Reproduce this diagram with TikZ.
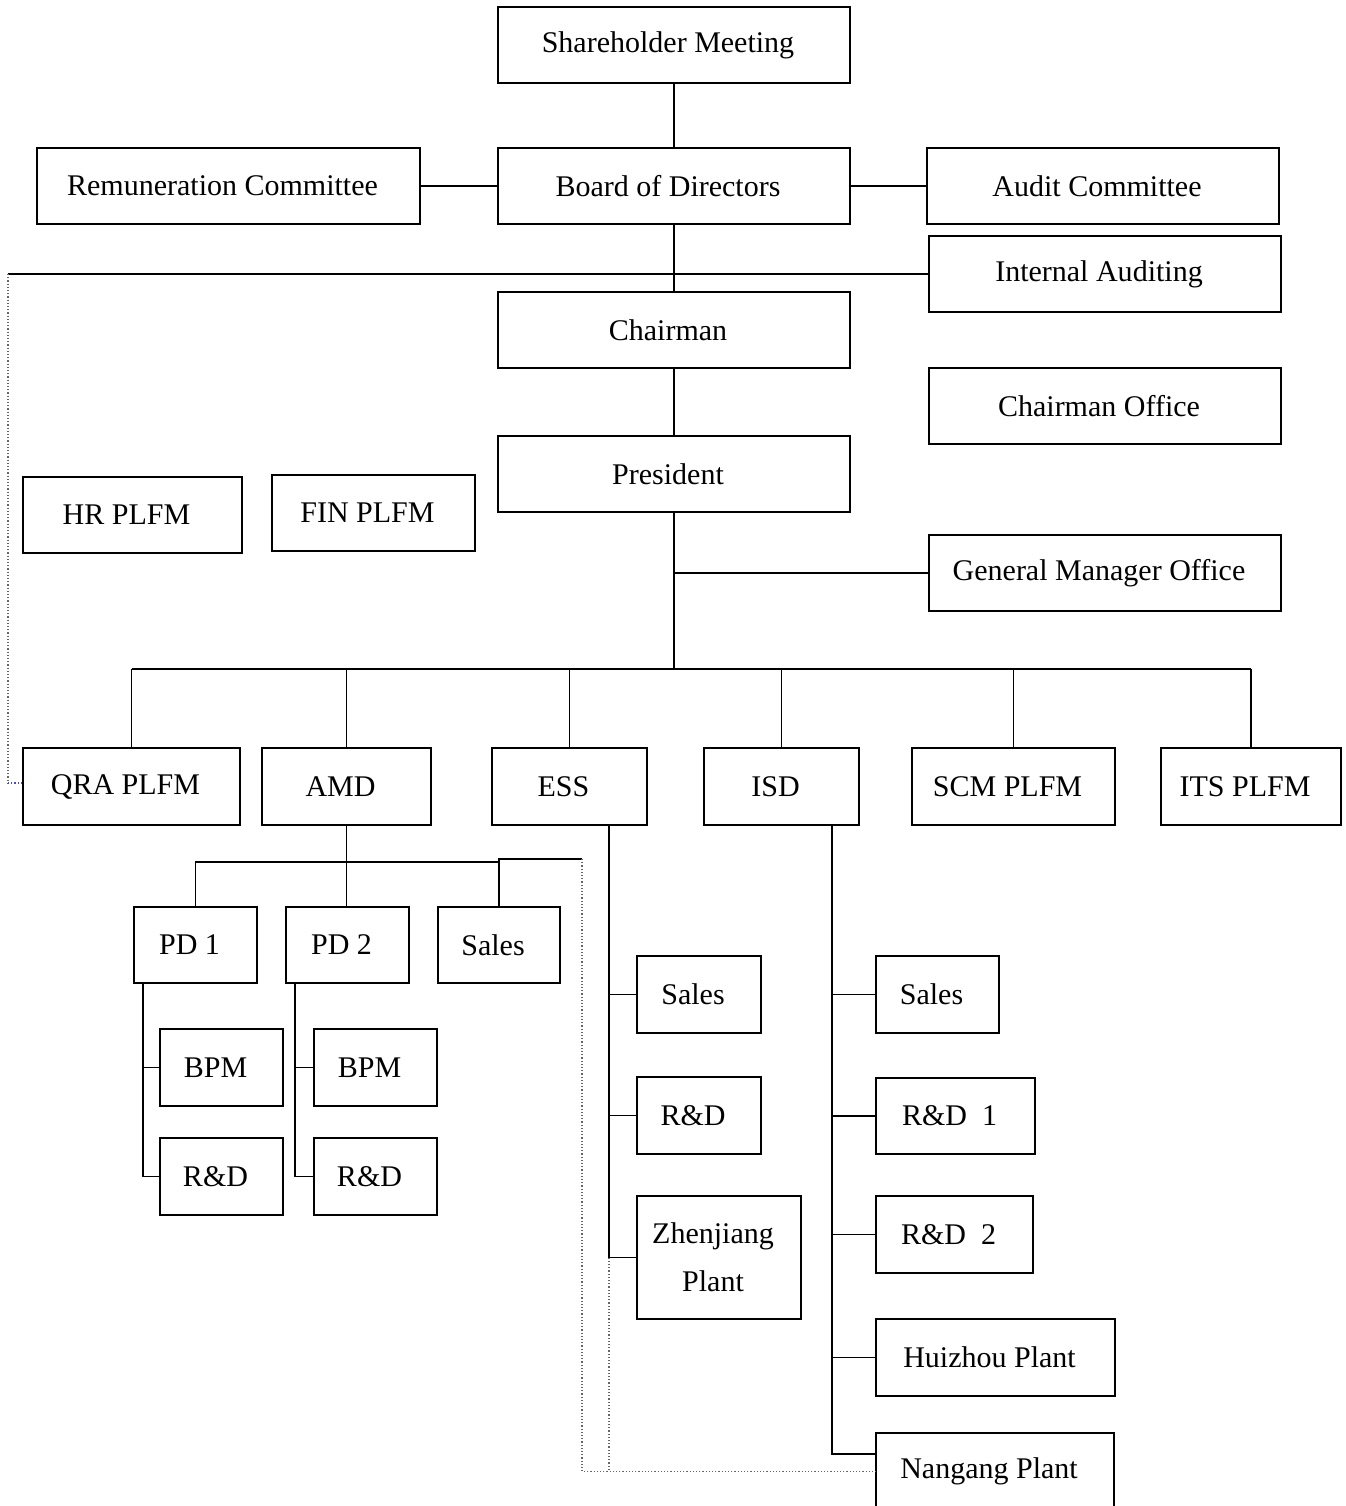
\documentclass[tikz,border=0pt]{standalone}
\usepackage{fontspec}
\setmainfont{Liberation Serif}
\begin{document}
\begin{tikzpicture}[x=1pt,y=-1pt,
  box/.style={draw, line width=1.6pt, inner sep=0pt,
    font=\fontsize{30}{48}\selectfont, execute at end node={\hspace*{12pt}}},
  conn/.style={line width=1.6pt},
  dotline/.style={dotted, line width=1.2pt, color=black!60},
  dotblue/.style={dotted, line width=1.2pt, color=blue!60!black!70}]
\useasboundingbox (0,0) rectangle (1345,1506);
\newcommand\bx[6]{\node[box, minimum width={#4-#2}, minimum height={#5-#3}]
  (#1) at ({(#2+#4)/2},{(#3+#5)/2}) {#6};}
% top
\bx{sh}{498}{7}{850}{83}{Shareholder Meeting}
\bx{rem}{37}{148}{420}{224}{Remuneration Committee}
\bx{bod}{498}{148}{850}{224}{Board of Directors}
\bx{aud}{927}{148}{1279}{224}{Audit Committee}
\bx{ia}{929}{236}{1281}{312}{Internal Auditing}
\bx{ch}{498}{292}{850}{368}{Chairman}
\bx{cho}{929}{368}{1281}{444}{Chairman Office}
\bx{pres}{498}{436}{850}{512}{President}
\bx{hr}{23}{477}{242}{553}{HR PLFM}
\bx{fin}{272}{475}{475}{551}{FIN PLFM}
\bx{gmo}{929}{535}{1281}{611}{General Manager Office}
% divisions
\bx{qra}{23}{748}{240}{825}{QRA PLFM}
\bx{amd}{262}{748}{431}{825}{AMD}
\bx{ess}{492}{748}{647}{825}{ESS}
\bx{isd}{704}{748}{859}{825}{ISD}
\bx{scm}{912}{748}{1115}{825}{SCM PLFM}
\bx{its}{1161}{748}{1341}{825}{ITS PLFM}
% AMD
\bx{pdone}{134}{907}{257}{983}{PD 1}
\bx{pdtwo}{286}{907}{409}{983}{PD 2}
\bx{asales}{438}{907}{560}{983}{Sales}
\bx{bpmone}{160}{1029}{283}{1106}{BPM}
\bx{rdone}{160}{1138}{283}{1215}{R\&D}
\bx{bpmtwo}{314}{1029}{437}{1106}{BPM}
\bx{rdtwo}{314}{1138}{437}{1215}{R\&D}
% ESS
\bx{esales}{637}{956}{761}{1033}{Sales}
\bx{erd}{637}{1077}{761}{1154}{R\&D}
\bx{zj}{637}{1196}{801}{1319}{\begin{tabular}{@{}c@{}}Zhenjiang\\Plant\end{tabular}}
% ISD
\bx{isales}{876}{956}{999}{1033}{Sales}
\bx{ird1}{876}{1078}{1035}{1154}{R\&D\ \ 1}
\bx{ird2}{876}{1196}{1033}{1273}{R\&D\ \ 2}
\bx{hz}{876}{1319}{1115}{1396}{Huizhou Plant}
\bx{ng}{876}{1433}{1114}{1510}{Nangang Plant}

% top connectors
\draw[conn] (sh) -- (bod);
\draw[conn] (rem) -- (bod);
\draw[conn] (bod) -- (aud);
\draw[conn] (bod) -- (ch);
\draw[conn] (ch) -- (pres);
\coordinate (dl) at (8,274);
\draw[conn] (dl) -- (ia.west);
\coordinate (bus) at (674,669);
\draw[conn] (pres.south) -- (bus);
\draw[conn] (pres.south |- gmo.west) -- (gmo.west);
\draw[conn] (qra.north |- bus) -- (its.north |- bus);
\foreach \n in {qra,amd,ess,isd,scm,its}
  \draw[conn] (\n.north |- bus) -- (\n.north);
% dotted left
\draw[dotline] (dl) -- (8,783) coordinate (dq);
\draw[dotblue] (dq) -- (dq -| qra.west);
% AMD
\draw[conn] (amd.south) -- (amd.south |- pdtwo.north);
\draw[conn] (pdone.north) |- (asales.north |- 0,862) -- (asales.north |- 0,859) -- (582,859) coordinate (da);
\draw[conn] (asales.north |- 0,859) -- (asales.north);
\draw[dotline] (da) -- (da |- ng.west) -- (ng.west);
\coordinate (pa) at (143,983);
\draw[conn] (pa) |- (rdone.west);
\draw[conn] (pa |- bpmone.west) -- (bpmone.west);
\coordinate (pb) at (295,983);
\draw[conn] (pb) |- (rdtwo.west);
\draw[conn] (pb |- bpmtwo.west) -- (bpmtwo.west);
% ESS
\coordinate (ev) at (609,825);
\draw[conn] (ev) |- (zj.west);
\draw[conn] (ev |- esales.west) -- (esales.west);
\draw[conn] (ev |- erd.west) -- (erd.west);
\draw[dotline] (ev |- zj.west) -- (ev |- ng.west);
% ISD
\coordinate (iv) at (832,825);
\draw[conn] (iv) |- (ng.west |- 0,1454);
\foreach \n in {isales,ird1,ird2,hz}
  \draw[conn] (iv |- \n.west) -- (\n.west);
\end{tikzpicture}
\end{document}
